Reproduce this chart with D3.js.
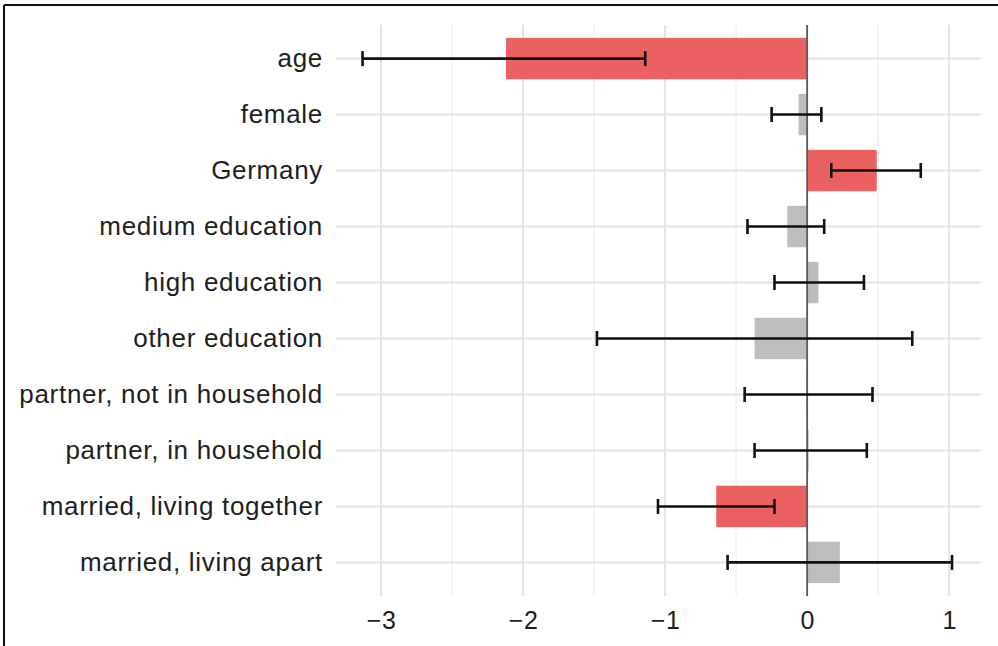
<!DOCTYPE html>
<html><head><meta charset="utf-8">
<script src="https://cdn.jsdelivr.net/npm/d3@7"></script>
<style>html,body{margin:0;padding:0;background:#fff;}</style>
</head><body>
<script>
const categories = ["age","female","Germany","medium education","high education","other education","partner, not in household","partner, in household","married, living together","married, living apart"];
const estimates = [-2.12,-0.06,0.49,-0.14,0.08,-0.37,-0.005,0.01,-0.64,0.23];
const lower = [-3.13,-0.25,0.17,-0.42,-0.23,-1.48,-0.44,-0.37,-1.05,-0.56];
const upper = [-1.14,0.10,0.80,0.12,0.40,0.74,0.46,0.42,-0.23,1.02];
const significant = [true,false,true,false,false,false,false,false,true,false];
const xTicks = [-3,-2,-1,0,1];
const xMinor = [-3.5,-2.5,-1.5,-0.5,0.5];

const W = 998, H = 646;
const svg = d3.select("body").append("svg").attr("width",W).attr("height",H);
const panel = {left:336, right:981, top:25, bottom:596};

const x = d3.scaleLinear().domain([-3.317,1.224]).range([panel.left,panel.right]);
const y = d3.scalePoint().domain(categories).range([panel.top,panel.bottom]).padding(0.6);
const step = y.step();
const barH = step*0.74;

// frame
svg.append("line").attr("x1",4).attr("x2",W).attr("y1",5).attr("y2",5).attr("stroke","#111").attr("stroke-width",2);
svg.append("line").attr("x1",4).attr("x2",4).attr("y1",5).attr("y2",H).attr("stroke","#111").attr("stroke-width",2);

// grid
const g = svg.append("g");
g.selectAll(".minor").data(xMinor.filter(v=>x(v)>=panel.left&&x(v)<=panel.right)).join("line")
  .attr("x1",d=>x(d)).attr("x2",d=>x(d)).attr("y1",panel.top).attr("y2",panel.bottom)
  .attr("stroke","#efefef").attr("stroke-width",1.3);
g.selectAll(".major").data(xTicks).join("line")
  .attr("x1",d=>x(d)).attr("x2",d=>x(d)).attr("y1",panel.top).attr("y2",panel.bottom)
  .attr("stroke","#e4e4e4").attr("stroke-width",2);
g.selectAll(".hgrid").data(categories).join("line")
  .attr("x1",panel.left).attr("x2",panel.right).attr("y1",d=>y(d)).attr("y2",d=>y(d))
  .attr("stroke","#e4e4e4").attr("stroke-width",2);

// bars
const data = categories.map((c,i)=>({c,est:estimates[i],lo:lower[i],hi:upper[i],sig:significant[i]}));
svg.selectAll(".bar").data(data).join("rect")
  .attr("x",d=>x(Math.min(0,d.est))).attr("width",d=>Math.abs(x(d.est)-x(0)))
  .attr("y",d=>y(d.c)-barH/2).attr("height",barH)
  .attr("fill",d=>d.sig?"#eb6060":"#bdbdbd");

// zero line
svg.append("line").attr("x1",x(0)).attr("x2",x(0)).attr("y1",panel.top).attr("y2",panel.bottom)
  .attr("stroke","#5a5a5a").attr("stroke-width",1.8);

// error bars
const eb = svg.selectAll(".eb").data(data).join("g").attr("stroke","#111").attr("stroke-width",2.6);
eb.append("line").attr("x1",d=>x(d.lo)).attr("x2",d=>x(d.hi)).attr("y1",d=>y(d.c)).attr("y2",d=>y(d.c));
eb.append("line").attr("x1",d=>x(d.lo)).attr("x2",d=>x(d.lo)).attr("y1",d=>y(d.c)-7.5).attr("y2",d=>y(d.c)+7.5);
eb.append("line").attr("x1",d=>x(d.hi)).attr("x2",d=>x(d.hi)).attr("y1",d=>y(d.c)-7.5).attr("y2",d=>y(d.c)+7.5);

// y axis labels
const yAxis = d3.axisLeft(y).tickSize(0).tickPadding(13);
const ya = svg.append("g").attr("transform",`translate(${panel.left},0)`).call(yAxis);
ya.select(".domain").remove();
ya.selectAll("text").attr("font-family","Liberation Sans, Arial, sans-serif").attr("font-size",26)
  .attr("letter-spacing","0.7px").attr("fill","#1e1e1e");

// x axis labels
const xAxis = d3.axisBottom(x).tickValues(xTicks).tickSize(0).tickPadding(15).tickFormat(d3.format("d"));
const xa = svg.append("g").attr("transform",`translate(0,${panel.bottom})`).call(xAxis);
xa.select(".domain").remove();
xa.selectAll("text").attr("font-family","Liberation Sans, Arial, sans-serif").attr("font-size",25)
  .attr("letter-spacing","0.5px").attr("fill","#1e1e1e");
</script>
</body></html>
